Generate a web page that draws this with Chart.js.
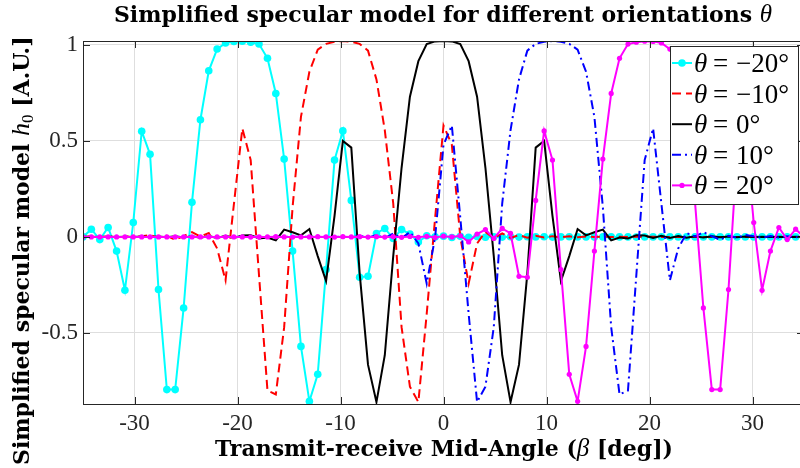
<!DOCTYPE html>
<html>
<head>
<meta charset="utf-8">
<script src="https://cdn.jsdelivr.net/npm/chart.js@4.4.0/dist/chart.umd.min.js"></script>
<style>
  html, body { margin: 0; padding: 0; background: #fff; overflow: hidden; }
  #wrap { position: relative; width: 810px; height: 468px; }
</style>
</head>
<body>
<div id="wrap"><canvas id="chart"></canvas></div>
<script>
// Transmit-receive mid-angle grid (deg)
const beta = [
  -35.00, -34.19, -33.37, -32.56, -31.74, -30.93, -30.12, -29.30, -28.49, -27.67,
  -26.86, -26.05, -25.23, -24.42, -23.60, -22.79, -21.98, -21.16, -20.35, -19.53,
  -18.72, -17.91, -17.09, -16.28, -15.47, -14.65, -13.84, -13.02, -12.21, -11.40,
  -10.58, -9.77, -8.95, -8.14, -7.33, -6.51, -5.70, -4.88, -4.07, -3.26,
  -2.44, -1.63, -0.81, 0.00, 0.81, 1.63, 2.44, 3.26, 4.07, 4.88,
  5.70, 6.51, 7.33, 8.14, 8.95, 9.77, 10.58, 11.40, 12.21, 13.02,
  13.84, 14.65, 15.47, 16.28, 17.09, 17.91, 18.72, 19.53, 20.35, 21.16,
  21.98, 22.79, 23.60, 24.42, 25.23, 26.05, 26.86, 27.67, 28.49, 29.30,
  30.12, 30.93, 31.74, 32.56, 33.37, 34.19, 35.00
];

// h0 for theta = -20 deg
const hThetaM20 = [
  0.0, 0.04, -0.014, 0.049, -0.074, -0.278, 0.075, 0.55, 0.43, -0.274,
  -0.795, -0.795, -0.37, 0.18, 0.61, 0.865, 0.978, 1.01, 1.018, 1.019,
  1.014, 1.004, 0.93, 0.747, 0.405, -0.074, -0.57, -0.856, -0.715, -0.17,
  0.40, 0.552, 0.19, -0.21, -0.205, 0.018, 0.044, -0.008, 0.038, 0.015,
  -0.026, 0.006, 0.0, 0.004, -0.003, 0.003, -0.002, 0.002, -0.002, 0.001,
  -0.001, 0.001, -0.001, 0.001, 0, 0.001, -0.001, 0, 0.001, 0,
  0, -0.001, 0, 0.001, 0, 0, -0.001, 0, 0, 0,
  0, 0, 0, 0, 0, 0, 0, 0, 0, 0,
  0, 0, 0, 0, 0, 0, 0
];

// h0 for theta = -10 deg
const hThetaM10 = [
  0.0, 0.003, -0.002, 0.004, -0.003, 0.005, -0.004, 0.003, 0.01, -0.004,
  0.006, -0.015, 0.004, 0.025, 0.002, 0.02, -0.06, -0.226, 0.17, 0.565,
  0.40, -0.2, -0.80, -0.82, -0.47, 0.156, 0.625, 0.86, 0.975, 1.005,
  1.016, 1.02, 1.016, 1.005, 0.97, 0.82, 0.556, 0.174, -0.47, -0.78,
  -0.86, -0.40, 0.10, 0.58, 0.48, 0.0, -0.243, -0.034, 0.026, -0.008,
  0.018, -0.006, 0.01, -0.004, 0.006, -0.003, 0.004, -0.002, 0.003, -0.002,
  0.002, -0.001, 0.002, -0.001, 0.001, -0.001, 0.001, 0, 0.001, 0,
  0, 0, 0, 0, 0, 0, 0, 0, 0, 0,
  0, 0, 0, 0, 0, 0, 0
];

// h0 for theta = 0 deg
const hTheta0 = [
  0, 0.001, -0.001, 0.001, -0.001, 0.001, -0.001, 0.002, -0.002, 0.002,
  -0.002, 0.003, -0.003, 0.003, -0.004, 0.004, -0.005, 0.006, -0.006, 0.007,
  0.009, -0.008, -0.003, -0.018, 0.038, 0.024, 0.008, 0.041, -0.10, -0.23,
  0.11, 0.50, 0.465, -0.19, -0.665, -0.86, -0.616, -0.10, 0.36, 0.73,
  0.915, 1.004, 1.018, 1.02, 1.018, 1.004, 0.915, 0.73, 0.36, -0.10,
  -0.616, -0.86, -0.665, -0.19, 0.465, 0.50, 0.11, -0.23, -0.10, 0.041,
  0.008, 0.024, 0.038, -0.018, -0.003, -0.008, 0.009, 0.007, -0.006, 0.006,
  -0.005, 0.004, -0.004, 0.003, -0.003, 0.003, -0.002, 0.002, -0.002, 0.002,
  -0.001, 0.001, -0.001, 0.001, -0.001, 0.001, 0
];

// h0 for theta = 10 deg
const hTheta10 = [
  0, 0, 0, 0, 0, 0, 0, 0, 0, 0,
  0, 0, 0, 0, 0, 0, 0, 0, 0, 0.001,
  0, 0.001, -0.001, 0.001, -0.001, 0.002, -0.001, 0.002, -0.002, 0.003,
  -0.002, 0.004, -0.003, 0.006, -0.004, 0.01, -0.006, 0.018, -0.008, 0.026,
  -0.034, -0.243, 0.0, 0.48, 0.58, 0.10, -0.40, -0.86, -0.78, -0.47,
  0.174, 0.556, 0.82, 0.97, 1.005, 1.016, 1.02, 1.016, 1.005, 0.975,
  0.86, 0.625, 0.156, -0.47, -0.82, -0.80, -0.2, 0.40, 0.565, 0.17,
  -0.226, -0.06, 0.02, 0.002, 0.025, 0.004, -0.015, 0.006, -0.004, 0.01,
  0.003, -0.004, 0.005, -0.003, 0.004, -0.002, 0.003
];

// h0 for theta = 20 deg
const hTheta20 = [
  0, 0, 0, 0, 0, 0, 0, 0, 0, 0,
  0, 0, 0, 0, 0, 0, 0, 0, 0, 0,
  -0.001, 0, 0, 0.001, 0, -0.001, 0, 0, 0.001, 0,
  -0.001, 0.001, 0, 0.001, -0.001, 0.001, -0.001, 0.001, -0.002, 0.002,
  -0.002, 0.003, -0.003, 0.004, 0.0, 0.006, -0.026, 0.015, 0.038, -0.008,
  0.044, 0.018, -0.205, -0.21, 0.19, 0.552, 0.40, -0.17, -0.715, -0.856,
  -0.57, -0.074, 0.405, 0.747, 0.93, 1.004, 1.014, 1.019, 1.018, 1.01,
  0.978, 0.865, 0.61, 0.18, -0.37, -0.795, -0.795, -0.274, 0.43, 0.55,
  0.075, -0.278, -0.074, 0.049, -0.014, 0.04, 0.0
];

const xTicks = [-30, -20, -10, 0, 10, 20, 30];
const yTicks = [-0.5, 0, 0.5, 1];
const thetaLabels = ['−20°', '−10°', '0°', '10°', '20°'];

const AXIS = '#262626';
const mathFont = s => 'italic ' + s + 'px "Liberation Serif", "DejaVu Serif", serif';
const romFont = s => s + 'px "Liberation Serif", "DejaVu Serif", serif';
const boldFont = s => 'bold ' + s + 'px "DejaVu Serif", serif';

const styles = [
  {data: hThetaM20, color: '#00ffff', dash: [], radius: 3.8},
  {data: hThetaM10, color: '#ff0000', dash: [9, 5], radius: 0},
  {data: hTheta0, color: '#000000', dash: [], radius: 0},
  {data: hTheta10, color: '#0000ff', dash: [9, 4, 2, 4], radius: 0},
  {data: hTheta20, color: '#ff00ff', dash: [], radius: 2.6}
];

// text made of pieces with different fonts
function richText(ctx, parts, x, y, align) {
  let total = 0;
  parts.forEach(p => { ctx.font = p.font; p.w = ctx.measureText(p.t).width; total += p.w; });
  let cx = align === 'center' ? x - total / 2 : x;
  parts.forEach(p => {
    ctx.font = p.font;
    ctx.fillText(p.t, cx, y + (p.dy || 0));
    cx += p.w;
  });
}

const framePlugin = {
  id: 'frame',
  afterDatasetsDraw(chart) {
    const {ctx, chartArea: a, scales} = chart;
    ctx.save();
    ctx.strokeStyle = AXIS;
    ctx.lineWidth = 1;
    ctx.setLineDash([]);
    ctx.strokeRect(a.left + 0.5, a.top + 0.5, a.right - a.left, a.bottom - a.top);
    ctx.beginPath();
    xTicks.forEach(v => {
      const px = Math.round(scales.x.getPixelForValue(v)) + 0.5;
      ctx.moveTo(px, a.bottom); ctx.lineTo(px, a.bottom - 7);
      ctx.moveTo(px, a.top); ctx.lineTo(px, a.top + 7);
    });
    yTicks.forEach(v => {
      const py = Math.round(scales.y.getPixelForValue(v)) + 0.5;
      ctx.moveTo(a.left, py); ctx.lineTo(a.left + 7, py);
      ctx.moveTo(a.right, py); ctx.lineTo(a.right - 7, py);
    });
    ctx.stroke();
    ctx.restore();
  },
  afterDraw(chart) {
    const {ctx} = chart;
    ctx.save();
    ctx.fillStyle = '#000';
    ctx.textBaseline = 'alphabetic';

    // chart title
    richText(ctx, [
      {t: 'Simplified specular model for different orientations ', font: boldFont(22)},
      {t: 'θ', font: mathFont(25)}
    ], 443, 22, 'center');

    // x axis title
    richText(ctx, [
      {t: 'Transmit-receive Mid-Angle (', font: boldFont(22)},
      {t: 'β', font: mathFont(25)},
      {t: ' [deg])', font: boldFont(22)}
    ], 444, 456, 'center');

    // y axis title
    ctx.save();
    ctx.translate(29, 465);
    ctx.rotate(-Math.PI / 2);
    richText(ctx, [
      {t: 'Simplified specular model ', font: boldFont(22)},
      {t: 'h', font: mathFont(26)},
      {t: '0', font: romFont(17), dy: 4},
      {t: ' [A.U.]', font: boldFont(22)}
    ], 0, 0, 'left');
    ctx.restore();

    // legend
    const bx = 670, by = 46, bw = 128, bh = 158;
    ctx.fillStyle = '#fff';
    ctx.fillRect(bx, by, bw, bh);
    ctx.strokeStyle = AXIS;
    ctx.lineWidth = 1;
    ctx.strokeRect(bx + 0.5, by + 0.5, bw, bh);
    styles.forEach((s, i) => {
      const ry = 63 + i * 30.6;
      ctx.strokeStyle = s.color;
      ctx.lineWidth = 2;
      ctx.setLineDash(s.dash);
      ctx.beginPath();
      ctx.moveTo(672, ry); ctx.lineTo(692, ry);
      ctx.stroke();
      ctx.setLineDash([]);
      if (s.radius) {
        ctx.fillStyle = s.color;
        ctx.beginPath();
        ctx.arc(682, ry, s.radius, 0, Math.PI * 2);
        ctx.fill();
      }
      ctx.fillStyle = '#000';
      ctx.font = mathFont(27);
      ctx.fillText('θ', 694, ry + 9);
      ctx.font = romFont(27);
      ctx.fillText('=', 713, ry + 9);
      ctx.fillText(thetaLabels[i], 736, ry + 9);
    });
    ctx.restore();
  }
};

new Chart(document.getElementById('chart'), {
  type: 'line',
  data: {
    datasets: styles.map((s, i) => ({
      data: beta.map((b, k) => ({x: b, y: s.data[k]})),
      borderColor: s.color,
      backgroundColor: s.color,
      borderWidth: 2,
      borderDash: s.dash,
      pointRadius: s.radius,
      pointBorderWidth: 0,
      pointBackgroundColor: s.color,
      fill: false,
      tension: 0,
      order: 4 - i
    }))
  },
  options: {
    responsive: true,
    maintainAspectRatio: false,
    animation: false,
    events: [],
    layout: {padding: {top: 41, right: 6, left: 0, bottom: 0}},
    plugins: {legend: {display: false}, tooltip: {enabled: false}, title: {display: false}},
    scales: {
      x: {
        type: 'linear',
        min: -35,
        max: 35,
        afterBuildTicks: s => { s.ticks = xTicks.map(v => ({value: v})); },
        afterFit: s => { s.height = 64; },
        grid: {color: '#dedede', drawTicks: false},
        border: {display: false},
        ticks: {
          autoSkip: false, maxRotation: 0, padding: 6, color: AXIS,
          font: {family: '"Liberation Serif", serif', size: 23},
          callback: v => String(v)
        }
      },
      y: {
        type: 'linear',
        min: -0.87,
        max: 1.02,
        afterBuildTicks: s => { s.ticks = yTicks.map(v => ({value: v})); },
        afterFit: s => { s.width = 83; },
        grid: {color: '#dedede', drawTicks: false},
        border: {display: false},
        ticks: {
          padding: 5, color: AXIS,
          font: {family: '"Liberation Serif", serif', size: 23},
          callback: v => String(v)
        }
      }
    }
  },
  plugins: [framePlugin]
});
</script>
</body>
</html>
